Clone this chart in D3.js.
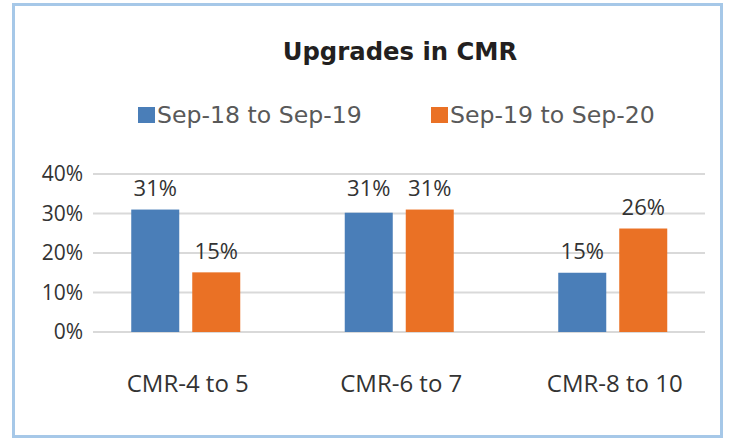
<!DOCTYPE html>
<html>
<head>
<meta charset="utf-8">
<script src="https://d3js.org/d3.v7.min.js"></script>
<style>
  body { margin: 0; background: #fff; }
  svg { display: block; }
</style>
</head>
<body>
<svg id="chart" width="740" height="446"></svg>
<script>
// chart data
var categories = ["CMR-4 to 5", "CMR-6 to 7", "CMR-8 to 10"];
var seriesNames = ["Sep-18 to Sep-19", "Sep-19 to Sep-20"];
var sep18 = [31, 30.2, 15];        // bar heights
var sep19 = [15.1, 31, 26.2];
var sep18Labels = ["31%", "31%", "15%"];
var sep19Labels = ["15%", "31%", "26%"];
var yTicks = [0, 10, 20, 30, 40];
var colors = ["#4a7eb8", "#ea7125"];

var svg = d3.select("#chart");

// outer frame
svg.append("rect")
    .attr("x", 13.5).attr("y", 4.5)
    .attr("width", 708).attr("height", 432)
    .attr("fill", "#fff")
    .attr("stroke", "#a6c8e8")
    .attr("stroke-width", 3);

// title
svg.append("text")
    .attr("x", 400).attr("y", 60)
    .attr("text-anchor", "middle")
    .attr("font-family", "'DejaVu Sans', sans-serif")
    .attr("font-weight", "bold")
    .attr("font-size", 24.3)
    .attr("fill", "#231f20")
    .text("Upgrades in CMR");

// scales
var y = d3.scaleLinear().domain([0, 40]).range([332, 174]);
var x0 = d3.scaleBand().domain(categories).range([79, 719.5]);
var x1 = d3.scaleBand().domain(seriesNames).range([0, 109]).paddingInner(13 / 61);

// gridlines
svg.append("g")
    .selectAll("line")
    .data(yTicks)
    .enter().append("line")
    .attr("x1", 93).attr("x2", 705)
    .attr("y1", function(d) { return y(d); })
    .attr("y2", function(d) { return y(d); })
    .attr("stroke", "#d9d9d9")
    .attr("stroke-width", 2);

// y axis labels
var yAxis = d3.axisLeft(y).tickValues(yTicks).tickSize(0).tickPadding(0)
    .tickFormat(function(d) { return d + "%"; });
var gy = svg.append("g")
    .attr("transform", "translate(83,0)")
    .call(yAxis);
gy.select(".domain").remove();
gy.selectAll("text")
    .attr("font-family", "'Open Sans', sans-serif")
    .attr("font-size", 21)
    .attr("fill", "#333");

// bars
var rows = categories.map(function(c, i) {
    return [
        { cat: c, s: seriesNames[0], v: sep18[i], lab: sep18Labels[i], col: colors[0] },
        { cat: c, s: seriesNames[1], v: sep19[i], lab: sep19Labels[i], col: colors[1] }
    ];
});
var center = function(c) { return x0(c) + x0.bandwidth() / 2 - 54.5; };

var groups = svg.append("g")
    .selectAll("g")
    .data(rows)
    .enter().append("g")
    .attr("transform", function(d) { return "translate(" + center(d[0].cat) + ",0)"; });

groups.selectAll("rect")
    .data(function(d) { return d; })
    .enter().append("rect")
    .attr("x", function(d) { return x1(d.s); })
    .attr("y", function(d) { return y(d.v); })
    .attr("width", x1.bandwidth())
    .attr("height", function(d) { return y(0) - y(d.v); })
    .attr("fill", function(d) { return d.col; });

groups.selectAll("text")
    .data(function(d) { return d; })
    .enter().append("text")
    .attr("x", function(d) { return x1(d.s) + x1.bandwidth() / 2; })
    .attr("y", function(d) { return y(parseFloat(d.lab)) - 14; })
    .attr("text-anchor", "middle")
    .attr("font-family", "'Open Sans', sans-serif")
    .attr("font-size", 22)
    .attr("fill", "#333")
    .text(function(d) { return d.lab; });

// category labels
var xAxis = d3.axisBottom(x0).tickSize(0).tickPadding(0);
var gx = svg.append("g")
    .attr("transform", "translate(2,374)")
    .call(xAxis);
gx.select(".domain").remove();
gx.selectAll("text")
    .attr("dy", 0).attr("y", 18)
    .attr("font-family", "'Open Sans', sans-serif")
    .attr("font-size", 24)
    .attr("fill", "#333");

// legend
var legend = svg.append("g")
    .selectAll("g")
    .data(seriesNames)
    .enter().append("g")
    .attr("transform", function(d, i) { return "translate(" + [138, 431][i] + ",107)"; });
legend.append("rect")
    .attr("width", 17).attr("height", 16)
    .attr("fill", function(d, i) { return colors[i]; });
legend.append("text")
    .attr("x", 19).attr("y", 16)
    .attr("font-family", "'DejaVu Sans', sans-serif")
    .attr("font-size", 23.6)
    .attr("fill", "#595959")
    .text(function(d) { return d; });
</script>
</body>
</html>
